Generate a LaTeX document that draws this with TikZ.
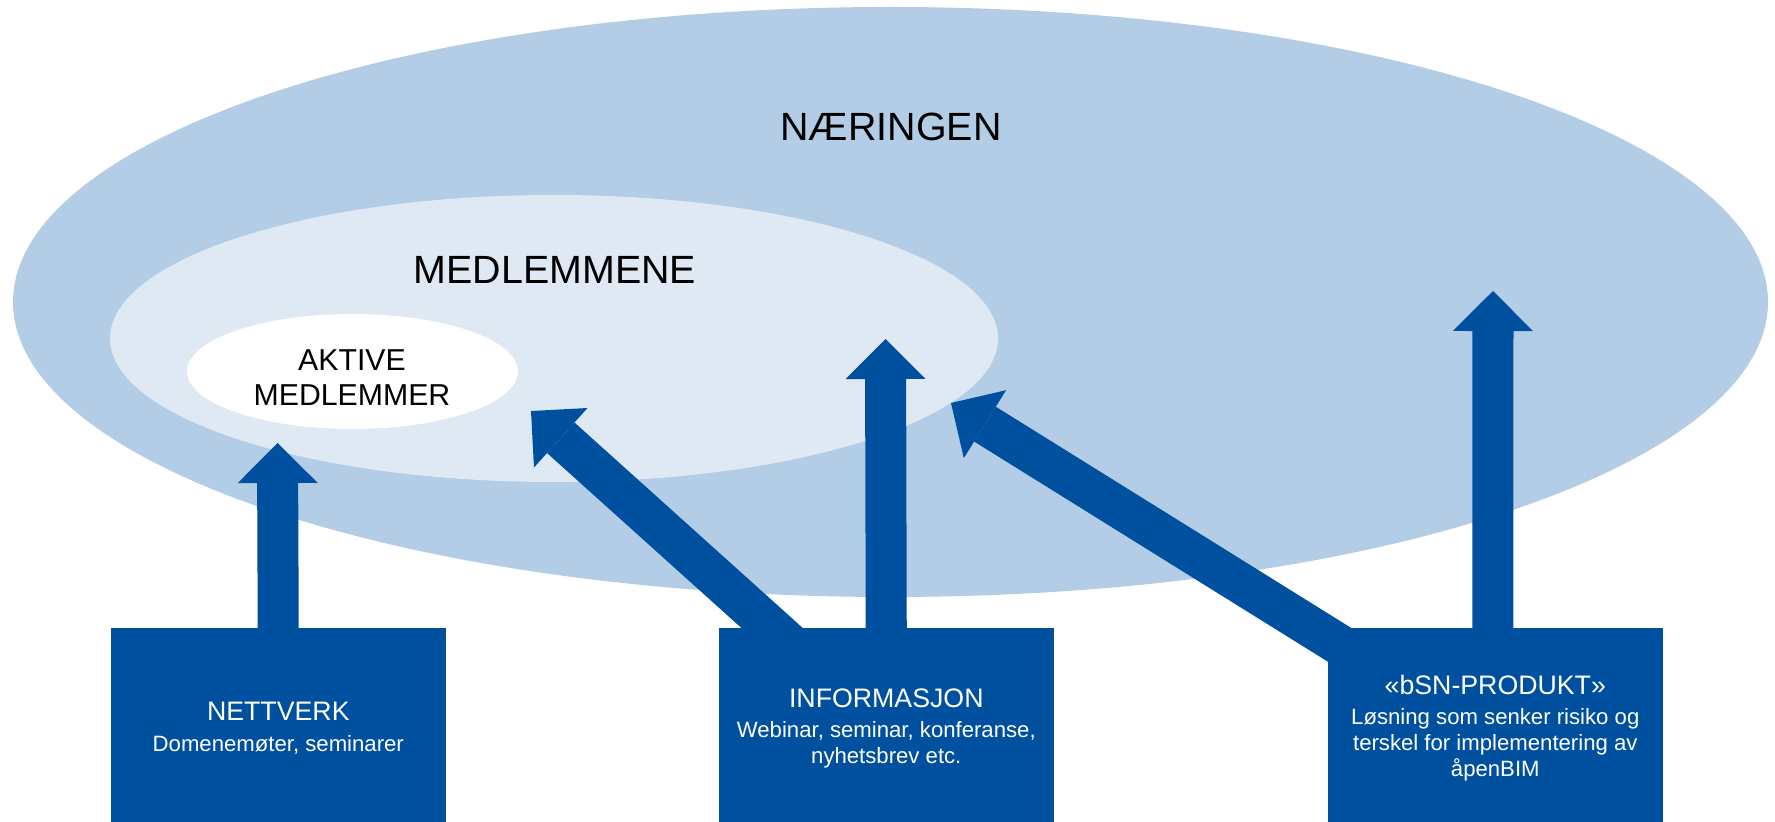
\documentclass[tikz,border=0pt]{standalone}
\usepackage{fontspec}
\setmainfont{Liberation Sans}
\usetikzlibrary{arrows.meta}
\definecolor{bsnblaa}{RGB}{0,80,160}
\definecolor{ytre}{RGB}{179,205,230}
\definecolor{midtre}{RGB}{223,233,244}
\newcommand\boksnavn[1]{{\fontsize{7.6}{9}\selectfont #1}\\[1.2pt]}
\begin{document}
\begin{tikzpicture}[x=0.01cm,y=-0.01cm,
	boks/.style={fill=bsnblaa,text=white,anchor=north west,minimum width=3.35cm,minimum height=2.01cm,inner sep=0pt,align=center,font=\fontsize{6.3}{7.4}\selectfont},
	pil/.style={draw=bsnblaa,line width=0.41cm,-{Triangle[width=0.8cm,length=0.4cm,line width=0pt]}},
	ring/.style={font=\fontsize{11.2}{13}\selectfont,anchor=base}]
	\useasboundingbox (0,0) rectangle (1775,822);
	\path (890.5,302) coordinate (O1) (554,338.5) coordinate (O2) (352.5,371.5) coordinate (O3)
	(277.5,443) coordinate (T1) (531,411) coordinate (T2) (885.5,339) coordinate (T3) (951,403) coordinate (T4) (1493,291) coordinate (T5);
	% ringene
	\fill[ytre] (O1) ellipse [x radius=877.5,y radius=295];
	\fill[midtre] (O2) ellipse [x radius=444,y radius=143.5];
	\fill[white] (O3) ellipse [x radius=165.5,y radius=57.5];
	\node[ring] (naering) at (891,141) {NÆRINGEN};
	\node[ring] (medlem) at (555,283.5) {MEDLEMMENE};
	\node[align=center,font=\fontsize{8.6}{9.9}\selectfont,inner sep=0pt] (aktive) at (352,378) {AKTIVE\\MEDLEMMER};
	% boksene
	\node[boks] (nett) at (110,627) {\boksnavn{NETTVERK}Domenemøter, seminarer};
	\node[boks] (info) at (718,627) {\boksnavn{INFORMASJON}Webinar, seminar, konferanse,\\nyhetsbrev etc.};
	\node[boks] (prod) at (1327,627) {\boksnavn{«bSN-PRODUKT»}Løsning som senker risiko og\\terskel for implementering av\\åpenBIM};
	\path ([shift={(0,20)}]nett.north) coordinate (S1) ([shift={(83,27)}]info.north west) coordinate (S2)
	([shift={(0,20)}]info.north) coordinate (S3) ([shift={(53,43)}]prod.north west) coordinate (S4)
	([shift={(-2.5,20)}]prod.north) coordinate (S5);
	\foreach \i in {1,...,5}
	\draw[pil] (S\i) -- (T\i);
\end{tikzpicture}
\end{document}
